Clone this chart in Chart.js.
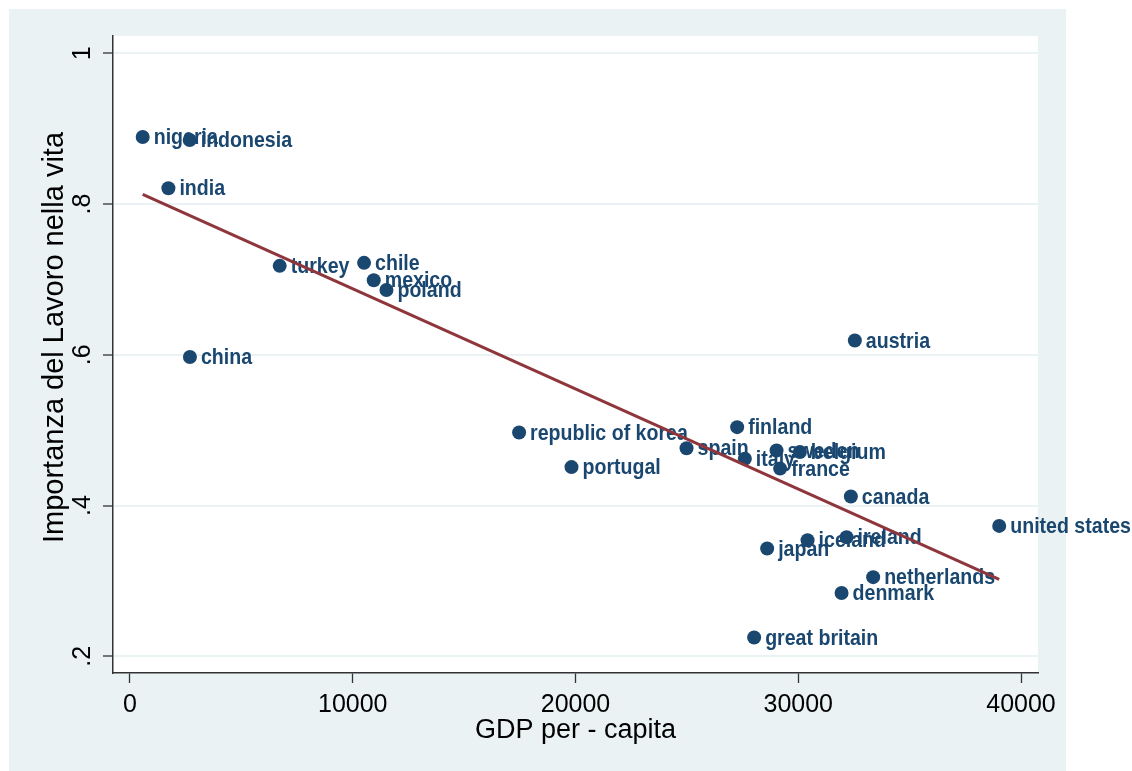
<!DOCTYPE html>
<html>
<head>
<meta charset="utf-8">
<script src="https://cdn.jsdelivr.net/npm/chart.js@4/dist/chart.umd.min.js"></script>
<style>
  html, body { margin: 0; padding: 0; background: #ffffff; }
  canvas { display: block; }
</style>
</head>
<body>
<canvas id="c" width="1132" height="771"></canvas>
<script>
// Country, GDP per capita and importance of work in life
const countries = [
  'nigeria', 'indonesia', 'india', 'turkey', 'chile', 'mexico', 'poland', 'china',
  'austria', 'republic of korea', 'portugal', 'spain', 'finland', 'italy', 'sweden',
  'belgium', 'france', 'canada', 'united states', 'iceland', 'ireland', 'japan',
  'netherlands', 'denmark', 'great britain'
];
const gdp = [
  570, 2681, 1724, 6721, 10508, 10943, 11513, 2690,
  32540, 17468, 19820, 24985, 27257, 27602, 29026,
  30072, 29187, 32362, 39022, 30418, 32168, 28604,
  33363, 31944, 28020
];
const importance = [
  0.889, 0.885, 0.821, 0.718, 0.722, 0.699, 0.686, 0.597,
  0.619, 0.497, 0.451, 0.476, 0.504, 0.462, 0.473,
  0.471, 0.449, 0.412, 0.373, 0.354, 0.358, 0.343,
  0.305, 0.284, 0.225
];

// Linear fit endpoints
const fitX = [570, 39022];
const fitY = [0.813, 0.302];

// Axis ticks
const xTicks = [0, 10000, 20000, 30000, 40000];
const xTickLabels = ['0', '10000', '20000', '30000', '40000'];
const yTicks = [0.2, 0.4, 0.6, 0.8, 1];
const yTickLabels = ['.2', '.4', '.6', '.8', '1'];

const xTitle = 'GDP per - capita';
const yTitle = 'Importanza del Lavoro nella vita';

const NAVY = '#1a476f';
const MAROON = '#8f363c';
const BG = '#eaf2f3';
const FONT = '"Liberation Sans", Arial, sans-serif';

const points = gdp.map((g, i) => ({ x: g, y: importance[i] }));
const fitLine = fitX.map((g, i) => ({ x: g, y: fitY[i] }));

// Outer light panel and white plot region
const backgroundPlugin = {
  id: 'panels',
  beforeDraw(chart) {
    const { ctx, chartArea: a } = chart;
    ctx.save();
    ctx.fillStyle = '#ffffff';
    ctx.fillRect(0, 0, chart.width, chart.height);
    ctx.fillStyle = BG;
    ctx.fillRect(9, 9, 1057, chart.height - 9);
    ctx.fillStyle = '#ffffff';
    ctx.fillRect(a.left, a.top, a.right - a.left, a.bottom - a.top);
    ctx.restore();
  }
};

// Vertical axis title, set a little above the middle of the plot region
const yTitlePlugin = {
  id: 'yTitle',
  afterDraw(chart) {
    const { ctx, chartArea: a } = chart;
    ctx.save();
    ctx.translate(55, (a.top + a.bottom) / 2 - 17);
    ctx.rotate(-Math.PI / 2);
    ctx.fillStyle = '#000';
    ctx.font = '29px ' + FONT;
    ctx.textAlign = 'center';
    ctx.textBaseline = 'middle';
    ctx.fillText(yTitle, 0, 0);
    ctx.restore();
  }
};

// Country names to the right of each marker
const markerLabels = {
  id: 'markerLabels',
  afterDatasetDraw(chart, args) {
    if (args.index !== 0) return;
    const { ctx } = chart;
    ctx.save();
    ctx.fillStyle = NAVY;
    ctx.font = 'bold 22.5px ' + FONT;
    ctx.textBaseline = 'middle';
    ctx.textAlign = 'left';
    args.meta.data.forEach((el, i) => {
      ctx.save();
      ctx.translate(el.x + 11, el.y + 1);
      ctx.scale(0.87, 1);
      ctx.fillText(countries[i], 0, 0);
      ctx.restore();
    });
    ctx.restore();
  }
};

new Chart(document.getElementById('c'), {
  type: 'scatter',
  data: {
    datasets: [
      {
        label: yTitle,
        data: points,
        backgroundColor: NAVY,
        borderWidth: 0,
        pointRadius: 7,
        pointHoverRadius: 7,
        order: 1
      },
      {
        type: 'line',
        label: 'Fitted values',
        data: fitLine,
        borderColor: MAROON,
        borderWidth: 3,
        pointRadius: 0,
        fill: false,
        tension: 0,
        order: 0
      }
    ]
  },
  options: {
    responsive: false,
    animation: false,
    devicePixelRatio: 1,
    layout: { padding: { left: 0, top: 36, right: 94, bottom: 0 } },
    plugins: {
      legend: { display: false },
      tooltip: { enabled: false }
    },
    scales: {
      x: {
        type: 'linear',
        min: -763,
        max: 40763,
        afterBuildTicks: (s) => { s.ticks = xTicks.map(v => ({ value: v })); },
        afterFit: (s) => { s.height = 98; },
        ticks: {
          autoSkip: false,
          maxRotation: 0,
          padding: 7,
          color: '#000',
          font: { family: FONT, size: 25 },
          callback: (v) => xTickLabels[xTicks.indexOf(v)]
        },
        grid: {
          drawOnChartArea: false,
          drawTicks: true,
          tickLength: 10,
          tickColor: '#333',
          tickWidth: 1.3
        },
        border: { display: true, color: '#333', width: 1.5 },
        title: {
          display: true,
          text: xTitle,
          color: '#000',
          font: { family: FONT, size: 27 },
          padding: { top: 0, bottom: 24 }
        }
      },
      y: {
        type: 'linear',
        min: 0.1778,
        max: 1.023,
        afterBuildTicks: (s) => { s.ticks = yTicks.map(v => ({ value: v })); },
        afterFit: (s) => { s.width = 113; },
        ticks: {
          autoSkip: false,
          minRotation: 90,
          maxRotation: 90,
          crossAlign: 'center',
          padding: 9,
          color: '#000',
          font: { family: FONT, size: 25 },
          callback: (v) => yTickLabels[yTicks.indexOf(v)]
        },
        grid: {
          color: BG,
          lineWidth: 2,
          drawTicks: true,
          tickLength: 10,
          tickColor: '#333',
          tickWidth: 1.3
        },
        border: { display: true, color: '#333', width: 1.5 },
        title: { display: false }
      }
    }
  },
  plugins: [backgroundPlugin, markerLabels, yTitlePlugin]
});
</script>
</body>
</html>
